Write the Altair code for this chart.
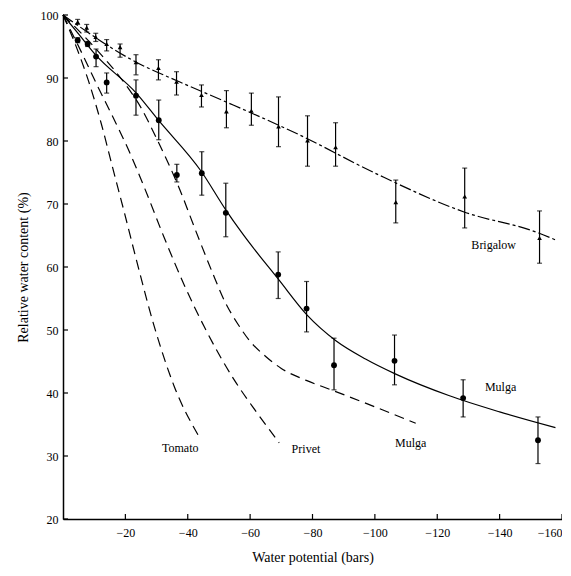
import altair as alt
import pandas as pd

# ---- Brigalow measured points (triangles) ----
brig_x = [-4.7, -7.6, -10.5, -14.0, -18.3, -23.4, -30.6, -36.4, -44.4, -52.4, -60.4, -69.1, -78.4, -87.4, -106.7, -128.8, -152.8]
brig_y = [98.9, 98.0, 96.5, 95.4, 94.9, 92.5, 91.6, 89.4, 87.3, 84.7, 84.8, 82.3, 80.1, 79.0, 70.3, 71.2, 64.6]
brig_lo = [98.5, 97.3, 95.8, 94.3, 93.3, 90.5, 89.7, 87.3, 85.4, 82.1, 82.5, 79.1, 76.0, 76.0, 67.0, 66.2, 60.6]
brig_hi = [99.3, 98.5, 97.1, 96.1, 95.4, 93.7, 92.9, 91.0, 88.9, 88.0, 87.6, 87.0, 84.0, 82.9, 73.8, 75.7, 68.9]

# ---- Mulga measured points (circles) ----
mulga_x = [-4.7, -7.9, -10.6, -14.0, -23.4, -30.7, -36.5, -44.5, -52.2, -69.0, -78.1, -86.9, -106.3, -128.3, -152.3]
mulga_y = [96.0, 95.4, 93.4, 89.3, 87.2, 83.3, 74.6, 74.9, 68.6, 58.8, 53.4, 44.4, 45.1, 39.2, 32.5]
mulga_lo = [95.6, 95.0, 91.8, 87.6, 84.1, 80.2, 73.5, 71.4, 64.8, 55.0, 49.7, 40.5, 41.3, 36.2, 28.8]
mulga_hi = [96.4, 95.8, 94.6, 90.8, 89.7, 86.5, 76.3, 78.3, 73.3, 62.4, 57.7, 48.7, 49.2, 42.1, 36.2]

# ---- fitted / reference curves ----
brig_cx = [0, -23.5, -37.3, -52.3, -75.7, -101.3, -128.8, -152.5, -157.9]
brig_cy = [100, 92.5, 89.4, 86.2, 81.0, 74.6, 68.7, 65.4, 64.3]

mulga_cx = [0, -5.3, -10.4, -23.5, -30.6, -44.3, -52.3, -57.1, -69.3, -78.2, -87.5, -97.0, -106.7, -123.7, -140.0, -157.9]
mulga_cy = [100, 96.8, 93.7, 87.6, 83.3, 75.2, 69.0, 65.6, 57.9, 52.4, 48.3, 45.4, 43.0, 39.6, 37.0, 34.5]

mulga2_cx = [0, -11.7, -20.0, -25.0, -30.2, -36.6, -43.7, -48.0, -52.0, -56.0, -60.0, -65.0, -70.0, -78.0, -86.0, -100.0, -113.1]
mulga2_cy = [100, 94.0, 89.0, 85.3, 80.2, 73.3, 64.3, 59.0, 54.4, 51.0, 48.2, 45.8, 43.9, 42.0, 40.5, 37.8, 35.2]

privet_cx = [0, -6.0, -11.0, -16.0, -21.0, -26.1, -32.5, -39.0, -45.3, -55.0, -62.0, -69.3]
privet_cy = [100, 94.0, 88.8, 83.8, 78.6, 72.6, 64.6, 57.0, 50.5, 42.0, 37.0, 32.1]

tomato_cx = [0, -4.3, -8.2, -12.3, -16.0, -19.7, -23.8, -29.3, -35.7, -43.7]
tomato_cy = [100, 94.9, 89.5, 82.7, 75.6, 68.6, 60.6, 50.5, 41.0, 33.0]

# ---- curve labels ----
lab_text = ["Brigalow", "Mulga", "Mulga", "Privet", "Tomato"]
lab_x = [-138.1, -140.3, -111.5, -77.9, -37.6]
lab_y = [63.5, 41.0, 32.1, 31.1, 31.3]

# ---- axis ticks ----
x_ticks = [-20, -40, -60, -80, -100, -120, -140, -160]
y_ticks = [20, 30, 40, 50, 60, 70, 80, 90, 100]

W, H = 499, 504
SERIF = "Liberation Serif"

xs = alt.Scale(domain=[-160, 0], reverse=True, nice=False)
ys = alt.Scale(domain=[20, 100], nice=False)

X = lambda f: alt.X(f, type="quantitative", scale=xs,
                    axis=alt.Axis(values=x_ticks, title="Water potential (bars)", ticks=False,
                                  labelPadding=8, titlePadding=12, grid=False))
Y = lambda f: alt.Y(f, type="quantitative", scale=ys,
                    axis=alt.Axis(values=y_ticks, title="Relative water content (%)", ticks=False,
                                  labelPadding=5, titlePadding=10, grid=False))

def curve(cx, cy, dash):
    df = pd.DataFrame({"x": cx, "y": cy, "o": range(len(cx))})
    m = alt.Chart(df).mark_line(color="black", strokeWidth=1.2, interpolate="monotone",
                                **({"strokeDash": dash} if dash else {}))
    return m.encode(x=X("x"), y=Y("y"), order="o:Q")

brig_df = pd.DataFrame({"x": brig_x, "y": brig_y, "lo": brig_lo, "hi": brig_hi})
mulga_df = pd.DataFrame({"x": mulga_x, "y": mulga_y, "lo": mulga_lo, "hi": mulga_hi})
pts_err = pd.concat([brig_df, mulga_df], ignore_index=True)

err_rule = alt.Chart(pts_err).mark_rule(color="black", strokeWidth=1.2).encode(
    x=X("x"), y=Y("lo"), y2="hi")
cap_lo = alt.Chart(pts_err).mark_tick(color="black", orient="horizontal", size=5, thickness=1.2).encode(
    x=X("x"), y=Y("lo"))
cap_hi = alt.Chart(pts_err).mark_tick(color="black", orient="horizontal", size=5, thickness=1.2).encode(
    x=X("x"), y=Y("hi"))

brig_pts = alt.Chart(brig_df).mark_point(shape="triangle-up", filled=True, color="black", size=22, opacity=1).encode(
    x=X("x"), y=Y("y"))
mulga_pts = alt.Chart(mulga_df).mark_circle(color="black", size=34, opacity=1).encode(
    x=X("x"), y=Y("y"))

labels = alt.Chart(pd.DataFrame({"t": lab_text, "x": lab_x, "y": lab_y})).mark_text(
    font=SERIF, fontSize=12, color="black").encode(x=X("x"), y=Y("y"), text="t:N")

xt = alt.Chart(pd.DataFrame({"v": x_ticks})).mark_rule(color="black", strokeWidth=1.2).encode(
    x=X("v"), y=alt.value(H), y2=alt.value(H - 5))
yt = alt.Chart(pd.DataFrame({"v": y_ticks})).mark_rule(color="black", strokeWidth=1.2).encode(
    y=Y("v"), x=alt.value(0), x2=alt.value(5))

chart = alt.layer(
    curve(tomato_cx, tomato_cy, [10, 6]),
    curve(privet_cx, privet_cy, [10, 6]),
    curve(mulga2_cx, mulga2_cy, [10, 6]),
    curve(mulga_cx, mulga_cy, None),
    curve(brig_cx, brig_cy, [12, 3, 3, 3]),
    err_rule, cap_lo, cap_hi, brig_pts, mulga_pts, labels, xt, yt,
).properties(
    width=W, height=H,
    autosize=alt.AutoSizeParams(type="none"),
    padding={"left": 55, "top": 7, "right": 0, "bottom": 49},
).configure_view(stroke=None).configure_axis(
    domainColor="black", domainWidth=1.5, labelColor="black", titleColor="black",
    labelFont=SERIF, titleFont=SERIF, labelFontSize=12, titleFontSize=14,
    titleFontWeight="normal",
)

chart.save("out.html", embed_options={"renderer": "svg", "actions": False})
